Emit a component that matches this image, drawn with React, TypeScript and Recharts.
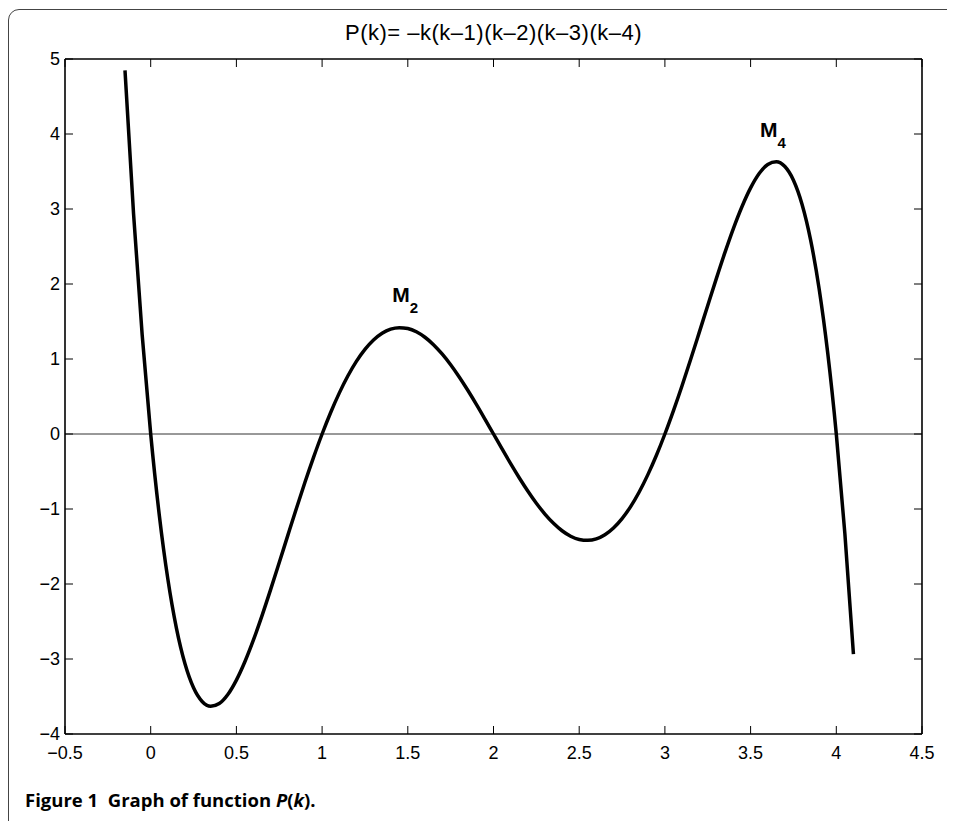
import React from 'react'
import { LineChart, Line, XAxis, YAxis, ReferenceLine, ReferenceDot } from 'recharts'

// sample points of the curve
const kValues = [
  -0.15, -0.1, -0.05, 0, 0.05, 0.1, 0.15, 0.2, 0.25, 0.3, 0.35, 0.4, 0.45, 0.5, 0.55, 0.6, 0.65, 0.7, 0.75, 0.8,
  0.85, 0.9, 0.95, 1, 1.05, 1.1, 1.15, 1.2, 1.25, 1.3, 1.35, 1.4, 1.45, 1.5, 1.55, 1.6, 1.65, 1.7, 1.75, 1.8,
  1.85, 1.9, 1.95, 2, 2.05, 2.1, 2.15, 2.2, 2.25, 2.3, 2.35, 2.4, 2.45, 2.5, 2.55, 2.6, 2.65, 2.7, 2.75, 2.8,
  2.85, 2.9, 2.95, 3, 3.05, 3.1, 3.15, 3.2, 3.25, 3.3, 3.35, 3.4, 3.45, 3.5, 3.55, 3.6, 3.65, 3.7, 3.75, 3.8,
  3.85, 3.9, 3.95, 4, 4.05, 4.1,
]
const pValues = [
  4.848, 2.936, 1.329, 0, -1.079, -1.934, -2.588, -3.064, -3.384, -3.566, -3.631, -3.594, -3.473, -3.281, -3.033,
  -2.742, -2.418, -2.072, -1.714, -1.352, -0.993, -0.644, -0.312, 0, 0.287, 0.545, 0.773, 0.968, 1.128, 1.253,
  1.343, 1.398, 1.418, 1.406, 1.363, 1.29, 1.191, 1.067, 0.923, 0.76, 0.583, 0.395, 0.199, 0, -0.199, -0.395,
  -0.583, -0.76, -0.923, -1.067, -1.191, -1.29, -1.363, -1.406, -1.418, -1.398, -1.343, -1.253, -1.128, -0.968,
  -0.773, -0.545, -0.287, 0, 0.312, 0.644, 0.993, 1.352, 1.714, 2.072, 2.418, 2.742, 3.033, 3.281, 3.473, 3.594,
  3.631, 3.566, 3.384, 3.064, 2.588, 1.934, 1.079, 0, -1.329, -2.936,
]

const xTicks = [-0.5, 0, 0.5, 1, 1.5, 2, 2.5, 3, 3.5, 4, 4.5]
const yTicks = [-4, -3, -2, -1, 0, 1, 2, 3, 4, 5]

// M2 / M4 annotations (text anchor in data units)
const markLabels = ['M', 'M']
const markSubs = ['2', '4']
const markK = [1.41, 3.555]
const markP = [1.76, 3.96]

const title = 'P(k)= \u2013k(k\u20131)(k\u20132)(k\u20133)(k\u20134)'

const data = kValues.map((k, i) => ({ k, p: pValues[i] }))

const fmt = (v: number) => String(v).replace('-', '\u2212')

const FONT = '"Liberation Sans", Arial, sans-serif'
const axisLine = { stroke: '#000', strokeWidth: 1.6 }
const tickLine = { stroke: '#000', strokeWidth: 1 }
const tickText = { fill: '#000', fontSize: 18, fontFamily: FONT }

const noTick = () => <g />

export default function App() {
  return (
    <div style={{ position: 'relative', width: 947, height: 813, overflow: 'hidden', fontFamily: FONT }}>
      {/* figure frame */}
      <div
        style={{
          position: 'absolute', left: 0, top: 1, width: 1000, height: 900,
          border: '1px solid #444', borderRadius: 11, boxSizing: 'border-box',
        }}
      />
      <div
        style={{
          position: 'absolute', left: 57, top: 12, width: 857, textAlign: 'center',
          fontSize: 22, letterSpacing: 0.5, color: '#000', whiteSpace: 'nowrap',
        }}
      >
        {title}
      </div>

      <div style={{ position: 'absolute', left: 0, top: 0 }}>
        <LineChart width={947} height={813} data={data} margin={{ top: 50, right: 32, bottom: 86, left: 56 }}>
          <XAxis
            type="number" dataKey="k" domain={[-0.5, 4.5]} ticks={xTicks} allowDataOverflow
            height={1} tickSize={-8} tickMargin={20} tickFormatter={fmt}
            axisLine={axisLine} tickLine={tickLine} tick={tickText} interval={0}
          />
          <XAxis
            xAxisId="top" orientation="top" type="number" dataKey="k" domain={[-0.5, 4.5]} ticks={xTicks}
            allowDataOverflow height={1} tickSize={-8} axisLine={axisLine} tickLine={tickLine} tick={noTick} interval={0}
          />
          <YAxis
            type="number" domain={[-4, 5]} ticks={yTicks} allowDataOverflow width={1}
            tickSize={-8} tickMargin={13} tickFormatter={fmt}
            axisLine={axisLine} tickLine={tickLine} tick={tickText} interval={0}
          />
          <YAxis
            yAxisId="right" orientation="right" type="number" domain={[-4, 5]} ticks={yTicks} allowDataOverflow
            width={1} tickSize={-8} axisLine={axisLine} tickLine={tickLine} tick={noTick} interval={0}
          />
          <ReferenceLine y={0} stroke="#333" strokeWidth={1} />
          <Line
            type="monotone" dataKey="p" stroke="#000" strokeWidth={3.5} dot={false}
            isAnimationActive={false}
          />
          {markK.map((k, i) => (
            <ReferenceDot
              key={i} x={k} y={markP[i]} r={0}
              shape={(props: any) => (
                <text x={props.cx} y={props.cy} fontFamily={FONT} fontWeight="bold" fill="#000" fontSize={21}>
                  {markLabels[i]}
                  <tspan fontSize={15} dy={11}>{markSubs[i]}</tspan>
                </text>
              )}
            />
          ))}
        </LineChart>
      </div>

      <div
        style={{
          position: 'absolute', left: 17, top: 779, fontFamily: '"Open Sans", sans-serif',
          fontWeight: 700, fontSize: 18.5, color: '#000', whiteSpace: 'nowrap',
        }}
      >
        Figure 1&nbsp;&nbsp;Graph of function <i>P</i>(<i>k</i>).
      </div>
    </div>
  )
}
